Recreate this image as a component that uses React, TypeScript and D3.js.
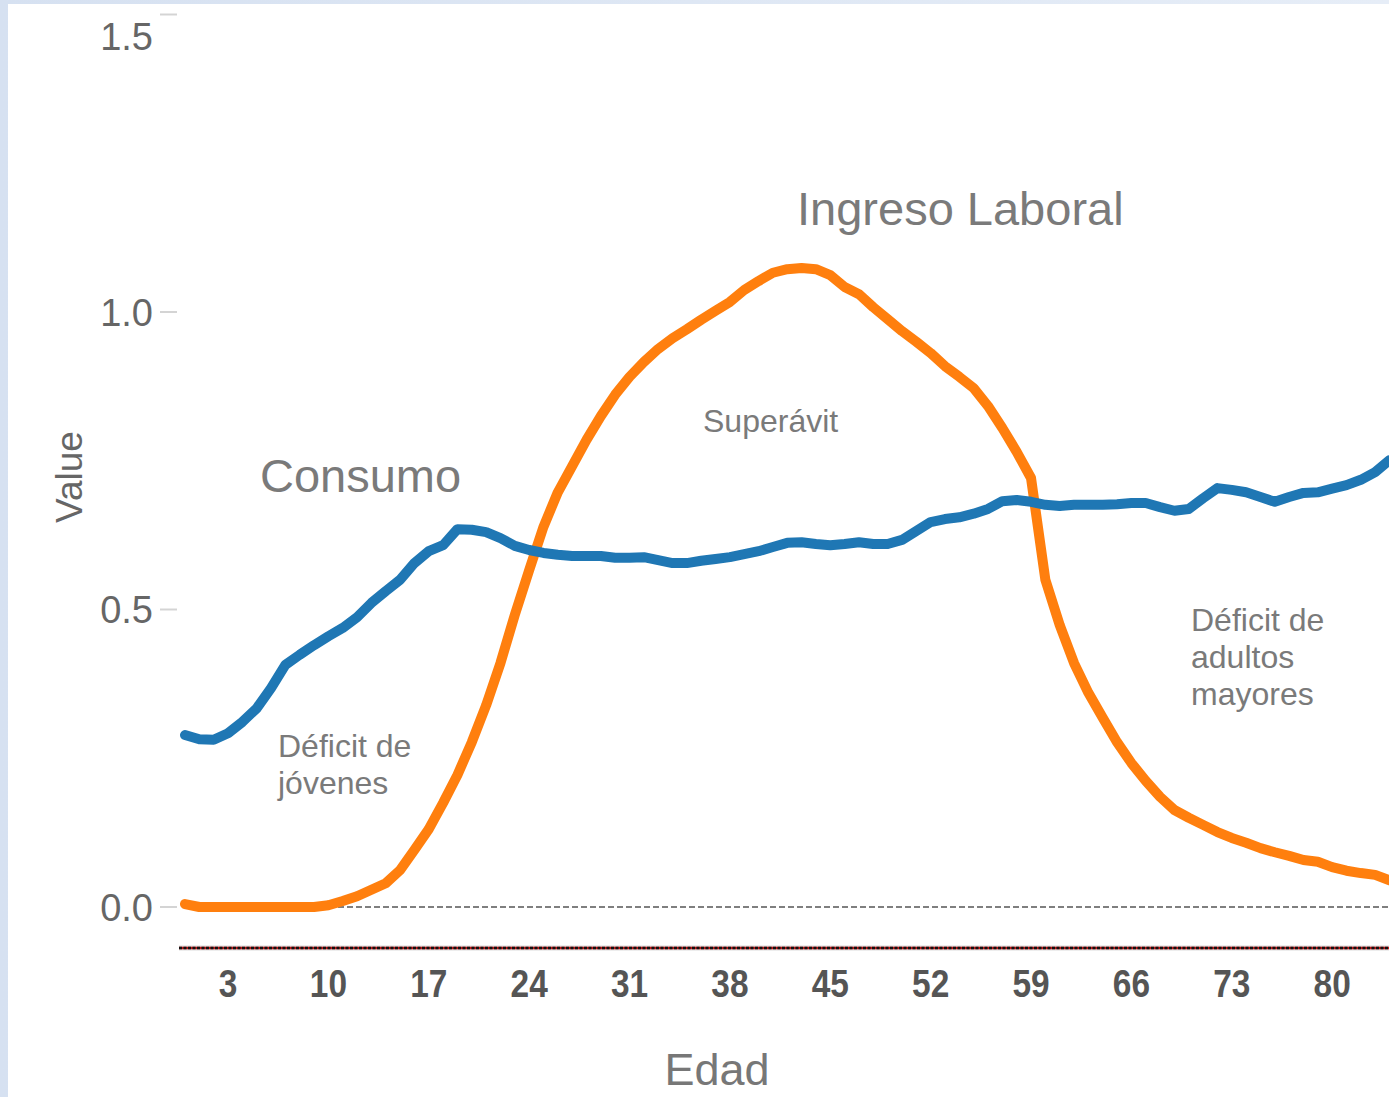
import React from "react";
import * as d3 from "d3";

const ages: number[] = Array.from({ length: 85 }, (_, i) => i);

const consumo: number[] = [
  0.289, 0.282, 0.281, 0.292, 0.311, 0.334, 0.368, 0.407, 0.424, 0.44,
  0.455, 0.469, 0.487, 0.511, 0.531, 0.55, 0.578, 0.598, 0.608, 0.635,
  0.634, 0.63, 0.62, 0.607, 0.6, 0.595, 0.592, 0.59, 0.59, 0.59,
  0.587, 0.587, 0.588, 0.583, 0.578, 0.578, 0.582, 0.585, 0.588, 0.593,
  0.598, 0.605, 0.612, 0.613, 0.61, 0.608, 0.61, 0.613, 0.61, 0.61,
  0.617, 0.632, 0.647, 0.652, 0.655, 0.661, 0.669, 0.682, 0.684, 0.681,
  0.676, 0.674, 0.676, 0.676, 0.676, 0.677, 0.679, 0.679, 0.672, 0.666,
  0.669, 0.687, 0.704, 0.701, 0.697, 0.689, 0.681, 0.689, 0.696, 0.697,
  0.703, 0.709, 0.718, 0.731, 0.751,
];

const ingresoLaboral: number[] = [
  0.005, 0.0, 0.0, 0.0, 0.0, 0.0, 0.0, 0.0, 0.0, 0.0,
  0.003, 0.01, 0.018, 0.029, 0.04, 0.062, 0.096, 0.131, 0.175, 0.222,
  0.277, 0.339, 0.41, 0.491, 0.566, 0.639, 0.697, 0.741, 0.785, 0.825,
  0.861, 0.891, 0.916, 0.938, 0.956, 0.971, 0.987, 1.002, 1.017, 1.037,
  1.052, 1.066, 1.072, 1.074, 1.072, 1.062, 1.042, 1.03, 1.008, 0.988,
  0.968, 0.95, 0.931, 0.909, 0.891, 0.872, 0.842, 0.805, 0.765, 0.721,
  0.55, 0.474, 0.41, 0.36, 0.318, 0.277, 0.242, 0.212, 0.185, 0.163,
  0.15, 0.138, 0.126, 0.116, 0.108, 0.099, 0.092, 0.086, 0.079, 0.076,
  0.067, 0.061, 0.057, 0.054, 0.045,
];

const xTickValues: number[] = [3, 10, 17, 24, 31, 38, 45, 52, 59, 66, 73, 80];
const yTickValues: number[] = [0, 0.5, 1.0, 1.5];

const W = 1389;
const H = 1097;

export default function App() {
  const x = d3.scaleLinear().domain([0, 84]).range([185, 1389.5]);
  const y = d3.scaleLinear().domain([0, 1.5]).range([907, 14.5]);

  const line = d3
    .line<number>()
    .x((_, i) => x(ages[i]))
    .y((d) => y(d))
    .curve(d3.curveLinear);

  const font = "'Liberation Sans', Arial, sans-serif";
  const axisY = 948;

  return (
    <svg
      width={W}
      height={H}
      style={{ position: "absolute", left: 0, top: 0 }}
      fontFamily={font}
    >
      <defs>
        <linearGradient id="bgL" x1="0" x2="1" y1="0" y2="0">
          <stop offset="0" stopColor="#d6e1f1" />
          <stop offset="1" stopColor="#e6edf7" />
        </linearGradient>
      </defs>
      <rect x={0} y={0} width={W} height={H} fill="url(#bgL)" />
      <rect x={8} y={4} width={W - 8} height={H - 4} fill="#ffffff" />

      {/* y ticks */}
      {yTickValues.map((t) => (
        <g key={t}>
          <line x1={160} x2={177} y1={y(t)} y2={y(t)} stroke="#d4d4d4" strokeWidth={2} />
          <text
            x={153}
            y={y(t) + (t === 1.5 ? 22 : 0)}
            dy="0.36em"
            textAnchor="end"
            fontSize={38}
            fill="#666"
          >
            {t.toFixed(1)}
          </text>
        </g>
      ))}

      {/* zero reference line */}
      <line
        x1={x(0)}
        x2={W}
        y1={y(0)}
        y2={y(0)}
        stroke="#555"
        strokeWidth={1.5}
        strokeDasharray="6,3"
      />

      {/* x axis line */}
      <line x1={179} x2={W} y1={axisY} y2={axisY} stroke="#dcdcdc" strokeWidth={5} />
      <line x1={179} x2={W} y1={axisY} y2={axisY} stroke="#c81818" strokeWidth={2.5} />
      <line
        x1={179}
        x2={W}
        y1={axisY}
        y2={axisY}
        stroke="#111"
        strokeWidth={2.5}
        strokeDasharray="3,1.5"
      />

      {/* x ticks */}
      {xTickValues.map((t) => (
        <text
          key={t}
          x={x(t)}
          y={983}
          dy="0.36em"
          textAnchor="middle"
          fontSize={38}
          fontWeight="bold"
          fill="#555"
          transform={`translate(${x(t)},0) scale(0.88,1) translate(${-x(t)},0)`}
        >
          {t}
        </text>
      ))}

      {/* series */}
      <path
        d={line(ingresoLaboral) || ""}
        fill="none"
        stroke="#ff7f0e"
        strokeWidth={10}
        strokeLinejoin="round"
        strokeLinecap="round"
      />
      <path
        d={line(consumo) || ""}
        fill="none"
        stroke="#1f77b4"
        strokeWidth={10}
        strokeLinejoin="round"
        strokeLinecap="round"
      />

      {/* axis titles */}
      <text
        x={0}
        y={0}
        transform="translate(82,477) rotate(-90)"
        textAnchor="middle"
        fontSize={37}
        fill="#666"
      >
        Value
      </text>
      <text x={717} y={1085} textAnchor="middle" fontSize={45} fill="#777">
        Edad
      </text>

      {/* annotations */}
      <text x={797} y={225} fontSize={47} fill="#7a7a7a">
        Ingreso Laboral
      </text>
      <text x={260} y={492} fontSize={47} fill="#7a7a7a">
        Consumo
      </text>
      <text x={703} y={432} fontSize={32} fill="#7a7a7a">
        Superávit
      </text>
      <text x={278} y={757} fontSize={32} fill="#7a7a7a">
        <tspan x={278}>Déficit de</tspan>
        <tspan x={278} dy={37}>jóvenes</tspan>
      </text>
      <text x={1191} y={631} fontSize={32} fill="#7a7a7a">
        <tspan x={1191}>Déficit de</tspan>
        <tspan x={1191} dy={37}>adultos</tspan>
        <tspan x={1191} dy={37}>mayores</tspan>
      </text>
    </svg>
  );
}
